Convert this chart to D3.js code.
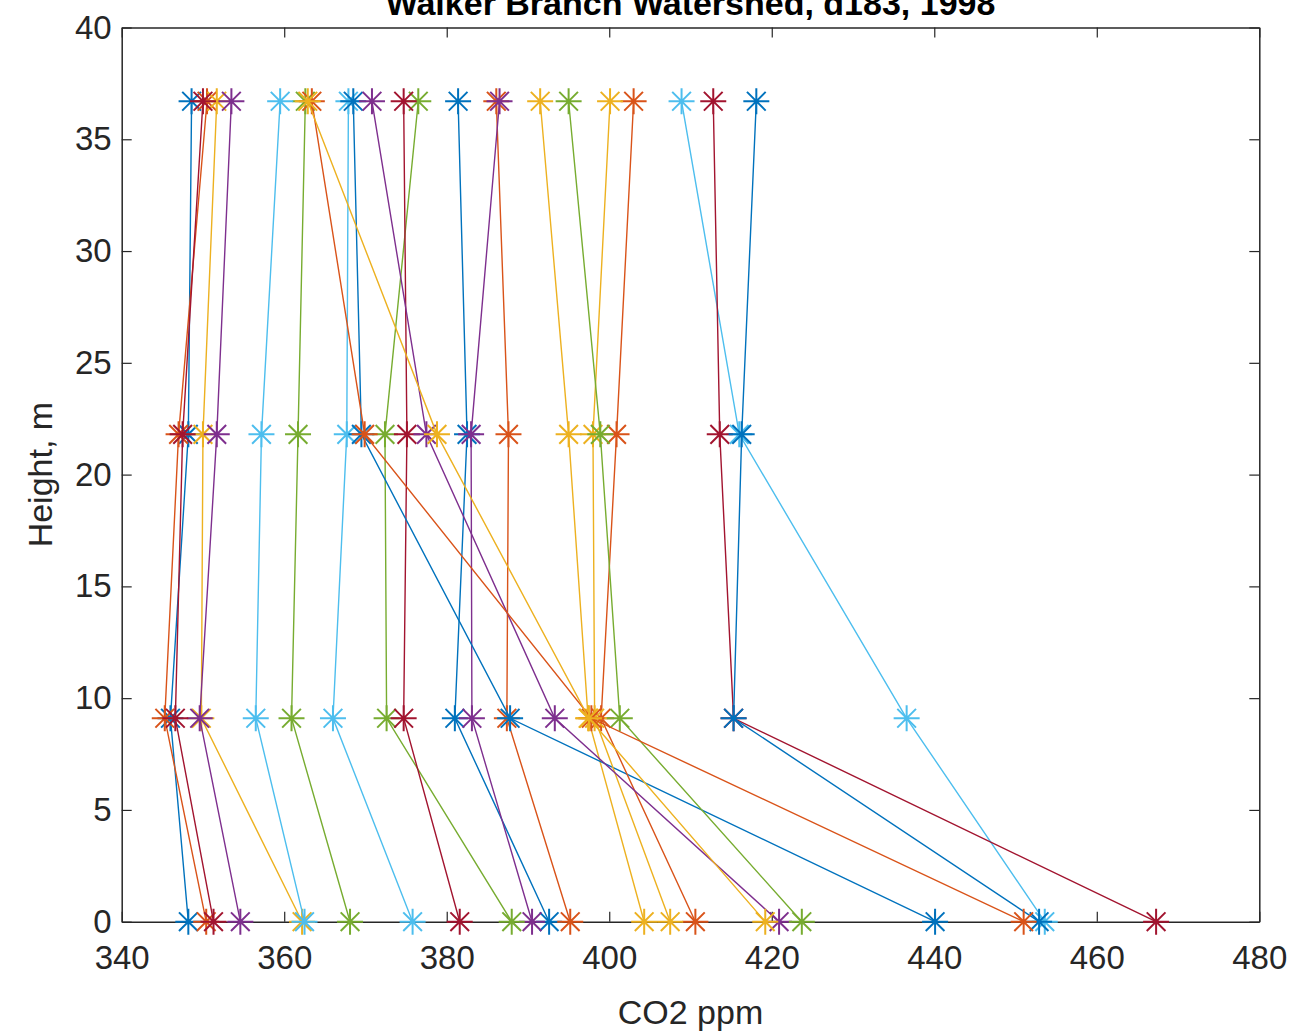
<!DOCTYPE html>
<html>
<head>
<meta charset="utf-8">
<script src="https://cdn.jsdelivr.net/npm/d3@7"></script>
<style>
  body { margin: 0; background: #fff; }
  svg { display: block; font-family: "Liberation Sans", Arial, sans-serif; }
</style>
</head>
<body>
<svg width="1295" height="1034"></svg>
<script>
// Sampling heights (m) of each profile
const heights = [0, 9.1, 21.8, 36.7];

// CO2 (ppm) at each height, one row per profile, in plot order
const profiles = [
  [348.2, 346.0, 348.2, 348.6],
  [350.4, 345.3, 347.0, 350.5],
  [362.2, 349.8, 350.0, 351.7],
  [354.6, 349.6, 351.7, 353.5],
  [368.1, 360.9, 361.7, 362.6],
  [362.5, 356.5, 357.2, 359.5],
  [351.3, 346.6, 347.5, 350.0],
  [392.6, 381.0, 382.5, 381.4],
  [395.2, 387.4, 387.6, 386.1],
  [404.3, 397.4, 395.0, 391.5],
  [390.5, 383.1, 383.0, 386.5],
  [388.0, 372.6, 372.4, 376.5],
  [375.8, 366.0, 367.7, 367.9],
  [381.6, 374.7, 375.1, 374.7],
  [440.1, 387.8, 369.5, 368.5],
  [410.6, 399.0, 400.9, 403.0],
  [407.5, 398.2, 398.0, 400.1],
  [420.9, 393.3, 377.5, 370.8],
  [423.7, 401.3, 398.9, 395.0],
  [453.6, 436.6, 416.0, 408.9],
  [467.3, 415.3, 413.6, 412.8],
  [452.9, 415.3, 416.3, 418.1],
  [451.0, 397.8, 369.9, 363.4],
  [419.2, 397.5, 378.8, 362.9]
];

const xTicks = [340, 360, 380, 400, 420, 440, 460, 480];
const yTicks = [0, 5, 10, 15, 20, 25, 30, 35, 40];

// MATLAB default colour order
const colorOrder = ["#0072BD", "#D95319", "#EDB120", "#7E2F8E", "#77AC30", "#4DBEEE", "#A2142F"];

const margin = { top: 27.5, right: 35.7, bottom: 112.3, left: 121.7 },
    width = 1295 - margin.left - margin.right,
    height = 1034 - margin.top - margin.bottom;

const svg = d3.select("svg");
const g = svg.append("g")
    .attr("transform", `translate(${margin.left},${margin.top})`);

const x = d3.scaleLinear().domain([340, 480]).range([0, width]);
const y = d3.scaleLinear().domain([0, 40]).range([height, 0]);
const color = i => colorOrder[i % colorOrder.length];

const axisColor = "#262626";

// Axes (ticks point inward, box on)
const xAxis = g.append("g")
    .attr("transform", `translate(0,${height})`)
    .call(d3.axisBottom(x).tickValues(xTicks).tickSizeInner(-10).tickSizeOuter(0).tickPadding(24));
const yAxis = g.append("g")
    .call(d3.axisLeft(y).tickValues(yTicks).tickSizeInner(-10).tickSizeOuter(0).tickPadding(10));
g.append("g")
    .call(d3.axisTop(x).tickValues(xTicks).tickSizeInner(-10).tickSizeOuter(0).tickFormat(""));
g.append("g")
    .attr("transform", `translate(${width},0)`)
    .call(d3.axisRight(y).tickValues(yTicks).tickSizeInner(-10).tickSizeOuter(0).tickFormat(""));

g.selectAll(".domain").attr("stroke", axisColor).attr("stroke-width", 1.5);
g.selectAll(".tick line").attr("stroke", axisColor).attr("stroke-width", 1.2);
xAxis.selectAll("text").attr("font-size", 33).attr("fill", axisColor)
    .attr("font-family", "Liberation Sans, Arial, sans-serif");
yAxis.selectAll("text").attr("font-size", 33).attr("fill", axisColor)
    .attr("font-family", "Liberation Sans, Arial, sans-serif");

// Profile lines
const line = d3.line()
    .x(d => x(d[0]))
    .y(d => y(d[1]));

const r = 13;
profiles.forEach((vals, i) => {
  const pts = vals.map((v, k) => [v, heights[k]]);
  const s = g.append("g").attr("stroke", color(i)).attr("fill", "none");
  s.append("path")
      .attr("d", line(pts))
      .attr("stroke-width", 1.4);
  s.selectAll(".mk")
      .data(pts)
      .enter().append("path")
      .attr("class", "mk")
      .attr("stroke-width", 2)
      .attr("transform", d => `translate(${x(d[0])},${y(d[1])})`)
      .attr("d", () => {
        const q = r * 0.72;
        return `M${-r},0H${r}M0,${-r}V${r}M${-q},${-q}L${q},${q}M${-q},${q}L${q},${-q}`;
      });
});

// Labels
svg.append("text")
    .attr("x", margin.left + width / 2)
    .attr("y", 1024)
    .attr("text-anchor", "middle")
    .attr("font-size", 34)
    .attr("fill", axisColor)
    .text("CO2 ppm");

svg.append("text")
    .attr("transform", `translate(52,${margin.top + height / 2}) rotate(-90)`)
    .attr("text-anchor", "middle")
    .attr("font-size", 34)
    .attr("fill", axisColor)
    .text("Height, m");

// title sits partly above the top edge, as in the source image
svg.append("text")
    .attr("x", margin.left + width / 2)
    .attr("y", 15)
    .attr("text-anchor", "middle")
    .attr("font-size", 34)
    .attr("font-weight", "bold")
    .attr("fill", "#000")
    .text("Walker Branch Watershed, d183, 1998");
</script>
</body>
</html>
